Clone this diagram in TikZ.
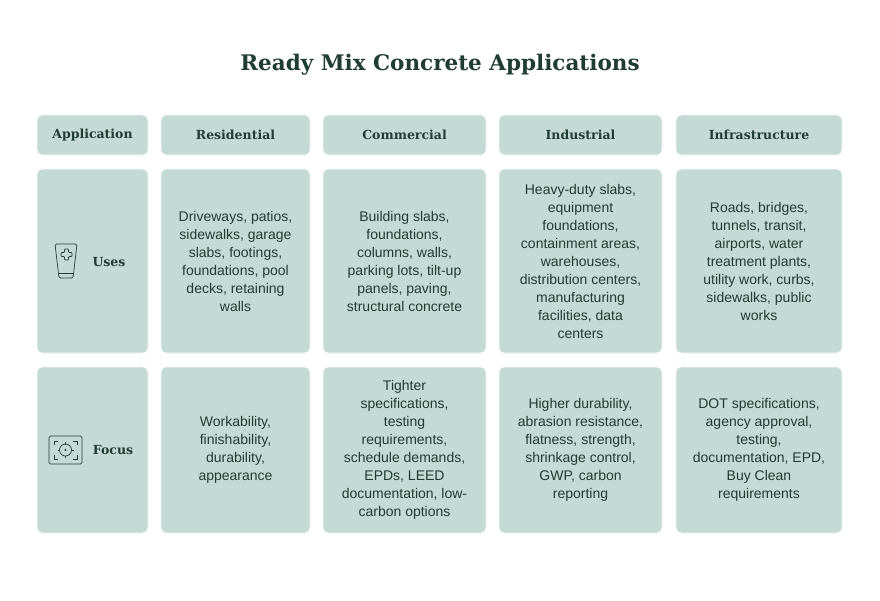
\documentclass[tikz,border=0pt]{standalone}
\usepackage{fontspec}
\setmainfont{Liberation Sans}
\newfontfamily\slab{DejaVu Serif}
\definecolor{cellbg}{HTML}{C4DAD4}
\definecolor{ink}{HTML}{1F3D32}
\begin{document}
\begin{tikzpicture}[x=1pt,y=-1pt,
 cell/.style={draw=white!85!cellbg,line width=0.8pt,fill=cellbg,rounded corners=5pt},
 hd/.style={text=ink,font=\slab\bfseries\fontsize{12.5}{14}\selectfont},
 body/.style={text=ink,font=\fontsize{14}{18}\selectfont,align=center}]
\useasboundingbox[fill=white] (0,0) rectangle (880,600);
\node[text=ink,font=\slab\bfseries\fontsize{21.5}{26}\selectfont] (title) at (440,65) {Ready Mix Concrete Applications};
\foreach \n/\xa/\xb in {a/37/148,b/161/310,c/323/486,d/499/662,e/676/842}{
  \draw[cell] (\xa,115) rectangle (\xb,155);
  \draw[cell] (\xa,169) rectangle (\xb,353);
  \draw[cell] (\xa,367) rectangle (\xb,533);
}
\node[hd] (h1) at (92.5,135) {Application};
\node[hd] (h2) at (235.5,135) {Residential};
\node[hd] (h3) at (404.5,135) {Commercial};
\node[hd] (h4) at (580.5,135) {Industrial};
\node[hd] (h5) at (759,135) {Infrastructure};
\node[hd] (uses) at (109,262) {Uses};
\node[hd] (focus) at (113,450) {Focus};
\begin{scope}[draw=ink,line width=0.7pt]
\draw[rounded corners=1.5pt] (55,244) -- (77,244) -- (73,278) -- (59,278) -- cycle;
\draw (59,273) -- (73,273);
\draw[rounded corners=0.8pt] (64.5,249) -- (64.5,252.5) -- (61,252.5) -- (61,256.5) -- (64.5,256.5) -- (64.5,260) -- (68.5,260) -- (68.5,256.5) -- (72,256.5) -- (72,252.5) -- (68.5,252.5) -- (68.5,249) -- cycle;
\draw[rounded corners=1.5pt] (49,436) rectangle (82,464);
\draw (54,445) -- (54,441) -- (58,441);  \draw (73,441) -- (77,441) -- (77,445);
\draw (54,455) -- (54,459) -- (58,459);  \draw (73,459) -- (77,459) -- (77,455);
\draw (65.5,450) circle (6);
\fill[ink] (65.5,450) circle (1.1);
\draw (65.5,442) -- (65.5,444.5); \draw (65.5,455.5) -- (65.5,458);
\draw (57.5,450) -- (60,450); \draw (71,450) -- (73.5,450);
\end{scope}
\node[body] (b1) at (235.5,261) {Driveways, patios,\\sidewalks, garage\\slabs, footings,\\foundations, pool\\decks, retaining\\walls};
\node[body] (b2) at (404.5,261) {Building slabs,\\foundations,\\columns, walls,\\parking lots, tilt-up\\panels, paving,\\structural concrete};
\node[body] (b3) at (580.5,261) {Heavy-duty slabs,\\equipment\\foundations,\\containment areas,\\warehouses,\\distribution centers,\\manufacturing\\facilities, data\\centers};
\node[body] (b4) at (759,261) {Roads, bridges,\\tunnels, transit,\\airports, water\\treatment plants,\\utility work, curbs,\\sidewalks, public\\works};
\node[body] (f1) at (235.5,450) {Workability,\\finishability,\\durability,\\appearance};
\node[body] (f2) at (404.5,450) {Tighter\\specifications,\\testing\\requirements,\\schedule demands,\\EPDs, LEED\\documentation, low-\\carbon options};
\node[body] (f3) at (580.5,450) {Higher durability,\\abrasion resistance,\\flatness, strength,\\shrinkage control,\\GWP, carbon\\reporting};
\node[body] (f4) at (759,450) {DOT specifications,\\agency approval,\\testing,\\documentation, EPD,\\Buy Clean\\requirements};
\end{tikzpicture}
\end{document}
